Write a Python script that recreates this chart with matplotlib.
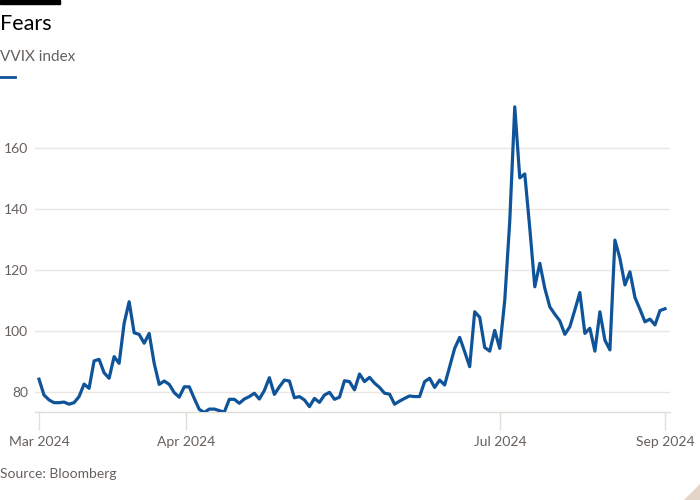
import matplotlib
matplotlib.use("Agg")
import matplotlib.pyplot as plt
from matplotlib.patches import Polygon, Rectangle
from matplotlib.lines import Line2D

vvix = [84.2, 79.0, 77.4, 76.5, 76.5, 76.7, 76.0, 76.5, 78.5, 82.6,
        81.2, 90.2, 90.7, 86.3, 84.5, 91.6, 89.4, 102.5, 109.6, 99.4,
        98.9, 96.0, 99.2, 89.4, 82.5, 83.6, 82.5, 79.8, 78.3, 81.7,
        81.7, 77.9, 74.3, 73.3, 74.4, 74.4, 73.9, 73.4, 77.6, 77.6,
        76.3, 77.7, 78.5, 79.6, 77.7, 80.5, 84.7, 79.2, 81.7, 83.9,
        83.6, 78.1, 78.5, 77.4, 75.2, 77.9, 76.6, 79.0, 79.9, 77.6,
        78.3, 83.7, 83.4, 80.7, 85.9, 83.4, 84.8, 82.9, 81.5, 79.6,
        79.3, 76.0, 77.0, 77.9, 78.7, 78.5, 78.5, 83.4, 84.5, 81.5,
        83.9, 82.3, 88.3, 94.3, 97.9, 93.2, 88.3, 106.3, 104.5, 94.6,
        93.4, 100.2, 94.3, 110.0, 136.0, 173.5, 150.2, 151.5, 133.7, 114.5,
        122.2, 114.0, 107.9, 105.5, 103.3, 98.9, 101.4, 106.9, 112.6, 99.2,
        100.9, 93.4, 106.3, 97.0, 93.8, 129.8, 123.8, 115.1, 119.4, 111.0,
        107.1, 103.0, 103.9, 102.0, 106.7, 107.3]

tick_pos = [0, 29.35, 92.05, 125]
tick_labels = ["Mar 2024", "Apr 2024", "Jul 2024", "Sep 2024"]
y_ticks = [80, 100, 120, 140, 160]

plt.rcParams['font.family'] = ['Lato', 'DejaVu Sans']

W, H = 700, 500
fig = plt.figure(figsize=(7, 5), dpi=100)
fig.patch.set_facecolor("white")

ax_left, ax_right = 35, 670
ax_top, ax_bot = 100, 412
ax = fig.add_axes([ax_left / W, 1 - ax_bot / H, (ax_right - ax_left) / W, (ax_bot - ax_top) / H])
ax.set_facecolor("white")

x = list(range(len(vvix)))
ax.plot(x, vvix, color="#0f5499", lw=2.3, solid_joinstyle="round", zorder=3)

sp = (665 - 39) / 125
ax.set_xlim(-(39 - ax_left) / sp, (ax_right - 39) / sp)
ax.set_ylim(80 - (412 - 392) / 3.05, 80 + (392 - 100) / 3.05)

ax.set_yticks(y_ticks)
ax.set_yticklabels([str(v) for v in y_ticks])
ax.yaxis.grid(True, color="#ebe6e1", lw=1.0)
ax.set_axisbelow(True)
ax.tick_params(axis="y", length=0, pad=5, labelsize=10, labelcolor="#66605c")

ax.set_xticks(tick_pos)
ax.set_xticklabels(tick_labels)
ax.tick_params(axis="x", length=13, width=1, color="#e3dfdb", pad=4, labelsize=10, labelcolor="#66605c")

for s in ["top", "right", "left"]:
    ax.spines[s].set_visible(False)
ax.spines["bottom"].set_color("#e0dcd8")
ax.spines["bottom"].set_linewidth(1)

# header
fig.add_artist(Rectangle((0, 1 - 4 / H), 60 / W, 4 / H, transform=fig.transFigure, color="black"))
fig.text(0, 1 - 24 / H, "Fears", fontsize=15.5, color="#000000", va="center", ha="left")
fig.text(0, 1 - 57 / H, "VVIX index", fontsize=11, color="#66605c", va="center", ha="left")
fig.add_artist(Line2D([0, 15 / W], [1 - 77 / H, 1 - 77 / H], transform=fig.transFigure, color="#0f5499", lw=2))
fig.text(0, 1 - 474 / H, "Source: Bloomberg", fontsize=10, color="#66605c", va="center", ha="left")

# corner decoration
fig.add_artist(Polygon([[1, 0], [1, 16 / H], [1 - 16 / W, 0]], closed=True, transform=fig.transFigure,
                       color="#e3d6c8", lw=0))

fig.savefig("out.png", dpi=100)
